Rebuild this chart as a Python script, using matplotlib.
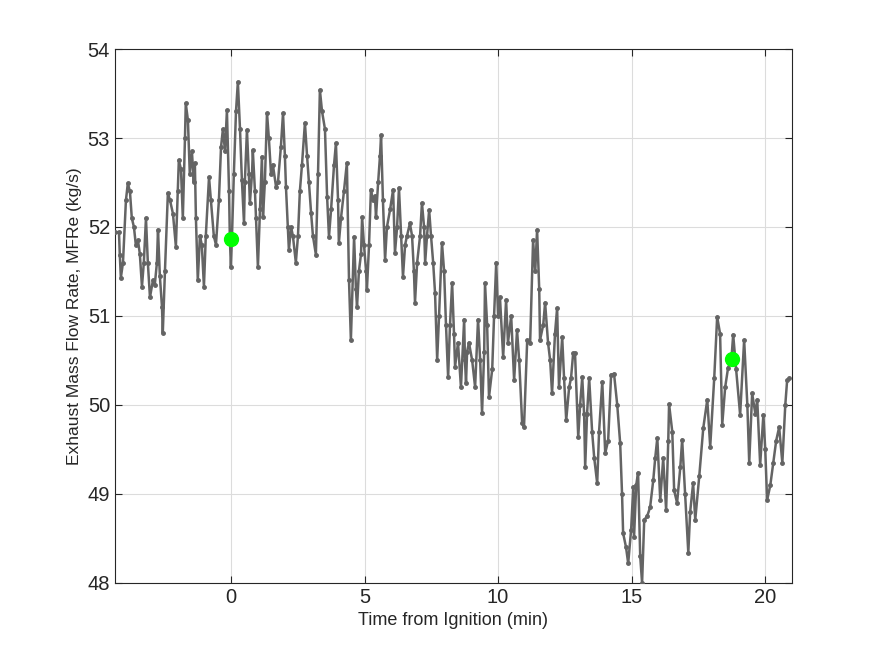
import matplotlib
matplotlib.use('Agg')
import matplotlib.pyplot as plt

# time from ignition (min) and exhaust mass flow rate (kg/s)
t = [-4.34, -4.19, -4.16, -4.12, -4.04, -3.93, -3.86, -3.78, -3.71, -3.63, -3.56, -3.48, -3.41, -3.33,
     -3.26, -3.18, -3.11, -3.03, -2.92, -2.85, -2.77, -2.73, -2.66, -2.58, -2.55, -2.47, -2.36, -2.28,
     -2.17, -2.06, -1.99, -1.95, -1.87, -1.80, -1.72, -1.69, -1.61, -1.54, -1.46, -1.39, -1.35, -1.31,
     -1.24, -1.16, -1.09, -1.01, -0.94, -0.82, -0.75, -0.64, -0.56, -0.45, -0.37, -0.30, -0.22, -0.15,
     -0.07, -0.04, 0.0, 0.04, 0.11, 0.19, 0.26, 0.34, 0.41, 0.49, 0.52, 0.60, 0.67, 0.71, 0.79, 0.82,
     0.90, 0.94, 1.01, 1.09, 1.16, 1.20, 1.27, 1.35, 1.42, 1.50, 1.57, 1.69, 1.76, 1.87, 1.95, 2.02,
     2.06, 2.13, 2.17, 2.25, 2.32, 2.43, 2.51, 2.58, 2.66, 2.77, 2.85, 2.92, 3.00, 3.07, 3.18, 3.26,
     3.33, 3.41, 3.52, 3.60, 3.67, 3.75, 3.86, 3.93, 4.01, 4.04, 4.12, 4.23, 4.34, 4.42, 4.49, 4.61,
     4.68, 4.72, 4.79, 4.87, 4.91, 4.98, 5.06, 5.09, 5.17, 5.24, 5.32, 5.39, 5.43, 5.51, 5.58, 5.62,
     5.69, 5.77, 5.84, 5.96, 6.07, 6.14, 6.22, 6.29, 6.37, 6.44, 6.52, 6.59, 6.70, 6.78, 6.85, 6.89,
     6.97, 7.08, 7.15, 7.23, 7.27, 7.34, 7.42, 7.49, 7.57, 7.64, 7.72, 7.79, 7.90, 7.98, 8.05, 8.13,
     8.20, 8.28, 8.35, 8.39, 8.50, 8.61, 8.73, 8.76, 8.80, 8.84, 8.91, 9.03, 9.14, 9.25, 9.33, 9.40,
     9.48, 9.51, 9.59, 9.66, 9.78, 9.85, 9.93, 10.00, 10.07, 10.19, 10.30, 10.37, 10.49, 10.60, 10.71,
     10.79, 10.90, 10.97, 11.09, 11.20, 11.31, 11.39, 11.46, 11.54, 11.57, 11.69, 11.76, 11.87, 11.95,
     12.02, 12.13, 12.21, 12.28, 12.40, 12.47, 12.55, 12.66, 12.73, 12.81, 12.88, 13.00, 13.07, 13.15,
     13.22, 13.26, 13.33, 13.41, 13.52, 13.60, 13.71, 13.78, 13.90, 14.01, 14.12, 14.23, 14.34, 14.46,
     14.57, 14.64, 14.68, 14.79, 14.87, 14.98, 15.06, 15.09, 15.17, 15.24, 15.32, 15.39, 15.47, 15.58,
     15.69, 15.81, 15.88, 15.96, 16.07, 16.18, 16.29, 16.37, 16.40, 16.52, 16.59, 16.70, 16.82, 16.89,
     17.00, 17.12, 17.19, 17.30, 17.38, 17.53, 17.68, 17.83, 17.94, 18.09, 18.20, 18.31, 18.39, 18.50,
     18.61, 18.73, 18.80, 18.91, 19.06, 19.21, 19.33, 19.40, 19.51, 19.63, 19.70, 19.81, 19.93, 20.00,
     20.07, 20.19, 20.30, 20.41, 20.52, 20.64, 20.75, 20.82, 20.90]
mfr = [51.94, 51.94, 51.69, 51.43, 51.60, 52.30, 52.49, 52.40, 52.10, 52.00, 51.80, 51.85, 51.70, 51.33,
       51.60, 52.10, 51.60, 51.21, 51.40, 51.35, 51.60, 51.97, 51.45, 51.10, 50.81, 51.50, 52.38, 52.30,
       52.15, 51.78, 52.40, 52.75, 52.65, 52.10, 53.00, 53.39, 53.20, 52.60, 52.85, 52.50, 52.72, 52.10,
       51.40, 51.90, 51.80, 51.33, 51.90, 52.56, 52.30, 51.90, 51.80, 52.30, 52.90, 53.10, 52.85, 53.31,
       52.40, 51.87, 51.55, 51.90, 52.60, 53.30, 53.63, 53.10, 52.53, 52.04, 52.50, 53.09, 52.60, 52.27,
       52.60, 52.86, 52.40, 52.10, 51.55, 52.20, 52.79, 52.11, 52.50, 53.28, 53.00, 52.60, 52.70, 52.45,
       52.50, 52.90, 53.28, 52.80, 52.45, 52.00, 51.74, 52.00, 51.90, 51.60, 51.90, 52.40, 52.70, 53.17,
       52.80, 52.50, 52.16, 51.90, 51.69, 52.60, 53.54, 53.30, 53.10, 52.34, 51.89, 52.20, 52.70, 52.94,
       52.30, 51.82, 52.10, 52.40, 52.72, 51.40, 50.73, 51.89, 51.30, 51.10, 51.50, 51.70, 52.11, 51.80,
       51.50, 51.29, 51.80, 52.42, 52.30, 52.35, 52.11, 52.50, 52.80, 53.03, 52.30, 51.63, 52.00, 52.20,
       52.42, 51.71, 52.00, 52.44, 51.90, 51.44, 51.80, 51.90, 52.04, 51.90, 51.50, 51.15, 51.60, 51.90,
       52.27, 52.00, 51.60, 51.90, 52.19, 51.90, 51.60, 51.26, 50.51, 51.00, 51.82, 51.50, 50.90, 50.31,
       50.90, 51.37, 50.80, 50.43, 50.70, 50.20, 50.96, 50.50, 50.25, 50.60, 50.70, 50.50, 50.20, 50.96,
       50.50, 49.91, 50.60, 51.37, 50.90, 50.09, 50.40, 51.00, 51.60, 51.00, 51.21, 50.54, 51.18, 50.70,
       51.00, 50.28, 50.84, 50.50, 49.80, 49.75, 50.73, 50.70, 51.85, 51.50, 51.97, 51.30, 50.73, 50.90,
       51.15, 50.70, 50.50, 50.13, 50.80, 51.09, 50.20, 50.76, 50.30, 49.83, 50.20, 50.30, 50.58, 50.58,
       49.64, 50.00, 50.31, 49.90, 49.30, 49.90, 50.30, 49.70, 49.40, 49.12, 49.70, 50.26, 49.46, 49.60,
       50.34, 50.35, 50.00, 49.57, 49.00, 48.56, 48.40, 48.22, 48.60, 49.08, 48.52, 49.10, 49.24, 48.30,
       48.00, 48.71, 48.75, 48.85, 49.16, 49.40, 49.63, 48.93, 49.40, 48.82, 49.60, 50.01, 49.70, 49.04,
       48.90, 49.30, 49.61, 49.00, 48.34, 48.80, 49.12, 48.71, 49.20, 49.74, 50.06, 49.53, 50.30, 50.99,
       50.80, 49.78, 50.20, 50.42, 50.50, 50.79, 50.40, 49.89, 50.73, 50.00, 49.35, 50.13, 49.90, 50.06,
       49.33, 49.89, 49.50, 48.93, 49.10, 49.35, 49.60, 49.75, 49.35, 50.00, 50.28, 50.30]

# highlighted samples (green dots)
mark_t = [0.0, 18.76]
mark_v = [51.87, 50.52]

plt.rcParams['font.family'] = ['Liberation Sans', 'DejaVu Sans']

fig = plt.figure(figsize=(8.75, 6.56), dpi=100)
ax = fig.add_axes([0.1314, 0.1113, 0.7737, 0.814])

ax.plot(t, mfr, '-', color='#646464', lw=1.8, marker='.', ms=5, zorder=3)
ax.plot(mark_t, mark_v, 'o', color='#00ff00', ms=10, mec='#00ff00', zorder=4, linestyle='none')

ax.set_xlim(-4.34, 21.0)
ax.set_ylim(48, 54)
ax.set_xticks([0, 5, 10, 15, 20])
ax.set_yticks([48, 49, 50, 51, 52, 53, 54])
ax.grid(True, color='#dcdcdc', lw=0.8)
ax.set_axisbelow(True)
ax.tick_params(direction='in', top=True, right=True, labelsize=14.5, colors='#262626', length=5)
for s in ax.spines.values():
    s.set_color('#262626')
    s.set_linewidth(0.8)

ax.set_xlabel('Time from Ignition (min)', fontsize=13, color='#262626')
ax.set_ylabel('Exhaust Mass Flow Rate, MFRe (kg/s)', fontsize=12.5, color='#262626')

fig.savefig('out.png', dpi=100)
